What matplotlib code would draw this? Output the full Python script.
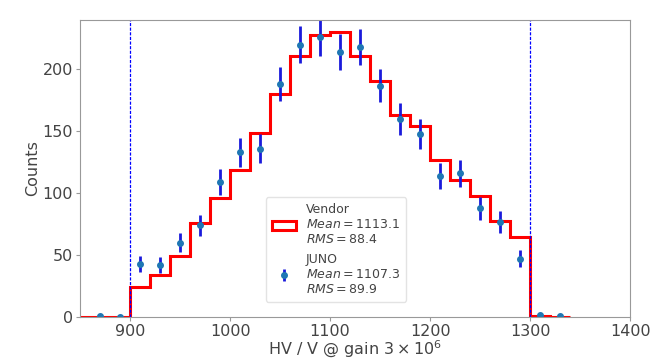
#!/usr/bin/env python3
"""HV distribution at gain 3e6: vendor vs JUNO measurement."""

import matplotlib

matplotlib.use("Agg")
import matplotlib.pyplot as plt  # noqa: E402
import numpy as np  # noqa: E402

# vendor histogram, 20 V bins
VENDOR_EDGES = [840, 860, 880, 900, 920, 940, 960, 980, 1000, 1020, 1040, 1060,
                1080, 1100, 1120, 1140, 1160, 1180, 1200, 1220, 1240, 1260,
                1280, 1300, 1320, 1340]
VENDOR_COUNTS = [0, 0, 0, 24, 34, 49, 76, 96, 119, 149, 180, 211, 228, 230,
                 211, 191, 163, 154, 127, 111, 98, 78, 65, 1, 0]

# JUNO measurement, bin centres
JUNO_X = [870, 890, 910, 930, 950, 970, 990, 1010, 1030, 1050, 1070, 1090,
          1110, 1130, 1150, 1170, 1190, 1210, 1230, 1250, 1270, 1290, 1310, 1330]
JUNO_Y = [1, 0, 43, 42, 60, 74, 109, 133, 136, 188, 220, 226, 214, 218, 187,
          160, 148, 114, 116, 88, 77, 47, 2, 1]

CUTS = [900, 1300]

TEXT = "#444444"
SPINE = "#999999"


def main() -> None:
    plt.rcParams.update({
        "font.family": "DejaVu Sans",
        "font.size": 12,
        "text.color": TEXT,
        "axes.labelcolor": TEXT,
        "xtick.color": TEXT,
        "ytick.color": TEXT,
        "axes.edgecolor": SPINE,
        "mathtext.fontset": "dejavusans",
    })
    fig = plt.figure(figsize=(6.51, 3.62), dpi=100)
    ax = fig.add_axes([0.123, 0.124, 0.845, 0.821])

    edges = np.array(VENDOR_EDGES)
    centres = (edges[:-1] + edges[1:]) / 2
    ax.hist(centres, bins=edges, weights=VENDOR_COUNTS, histtype="step",
            color="red", linewidth=2.2,
            label="Vendor\n$Mean = 1113.1$\n$RMS = 88.4$")

    y = np.array(JUNO_Y, dtype=float)
    ax.errorbar(JUNO_X, y, yerr=np.sqrt(y), fmt="o", markersize=4,
                color="#1f77b4", ecolor="#1a1adb", elinewidth=2,
                label="JUNO\n$Mean = 1107.3$\n$RMS = 89.9$")

    for cut in CUTS:
        ax.axvline(cut, color="blue", linestyle=(0, (2.5, 1.2)), linewidth=0.9)

    ax.set_xlim(850, 1400)
    ax.set_ylim(0, 240)
    ax.set_yticks([0, 50, 100, 150, 200])
    ax.set_xticks([900, 1000, 1100, 1200, 1300, 1400])
    ax.tick_params(labelsize=11.5, color=SPINE, length=3, pad=2)
    ax.set_ylabel("Counts", fontsize=11.5, labelpad=2)
    ax.set_xlabel(r"HV / V @ gain $3 \times 10^6$", fontsize=11.5, labelpad=0)

    ax.legend(loc="lower center", bbox_to_anchor=(0.465, 0.03), fontsize=9,
              handlelength=1.9, labelspacing=0.5, borderpad=0.5,
              framealpha=0.8, edgecolor="#dddddd")

    fig.savefig("out.png", dpi=100)


if __name__ == "__main__":
    main()
